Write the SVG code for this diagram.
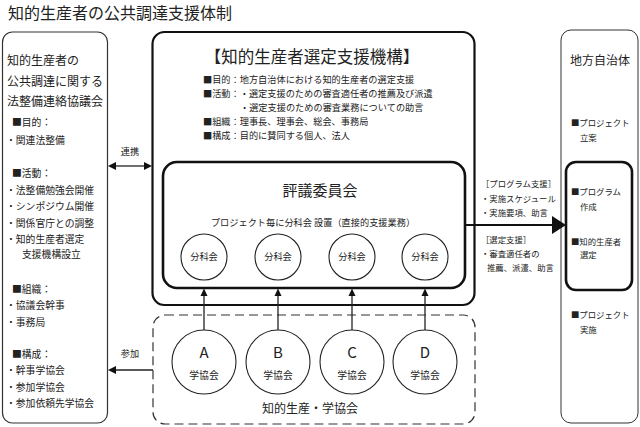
<svg xmlns="http://www.w3.org/2000/svg" width="640" height="427" viewBox="0 0 640 427">
<style>
text{font-family:"Noto Sans CJK JP","Noto Sans",sans-serif;fill:#222}
.s{font-size:9.2px}
.r{font-size:8.4px}
.l{font-size:9.8px}
.m{font-size:12px}
.c{text-anchor:middle}
.thin{fill:#fff;stroke:#333;stroke-width:1.2}
.thick{fill:#fff;stroke:#111;stroke-width:2.2}
.heavy{fill:none;stroke:#111;stroke-width:2.6}
.circ{fill:#fff;stroke:#222;stroke-width:1.1}
.ln{stroke:#222;stroke-width:1.3;fill:none}
.ah{fill:#111}
</style>
<rect width="640" height="427" fill="#fff"/>
<text x="8" y="19" style="font-size:16px">知的生産者の公共調達支援体制</text>

<g id="council">
<rect class="thin" x="2.5" y="32" width="105" height="391" rx="10"/>
<text class="m" x="7" y="64.5">知的生産者の</text>
<text class="m" x="7" y="85.5">公共調達に関する</text>
<text class="m" x="7" y="105.5">法整備連絡協議会</text>
<text class="l" x="12" y="125.6">■目的：</text>
<text class="l" x="6" y="143.6">・関連法整備</text>
<text class="l" x="12" y="176.6">■活動：</text>
<text class="l" x="6" y="193.6">・法整備勉強会開催</text>
<text class="l" x="6" y="210">・シンポジウム開催</text>
<text class="l" x="6" y="226.6">・関係官庁との調整</text>
<text class="l" x="6" y="242.6">・知的生産者選定</text>
<text class="l" x="22" y="257.6">支援機構設立</text>
<text class="l" x="12" y="292.6">■組織：</text>
<text class="l" x="6" y="308.6">・協議会幹事</text>
<text class="l" x="6" y="325.6">・事務局</text>
<text class="l" x="12" y="357.6">■構成：</text>
<text class="l" x="6" y="373.6">・幹事学協会</text>
<text class="l" x="6" y="390.6">・参加学協会</text>
<text class="l" x="6" y="406.6">・参加依頼先学協会</text>
</g>

<g id="org">
<rect class="thick" x="152.5" y="32" width="322" height="273" rx="12"/>
<text class="c" x="312" y="63" style="font-size:16.5px">【知的生産者選定支援機構】</text>
<text class="s" x="203" y="82.6">■目的：地方自治体における知的生産者の選定支援</text>
<text class="s" x="203" y="96.6">■活動：・選定支援のための審査適任者の推薦及び派遣</text>
<text class="s" x="240" y="110.6">・選定支援のための審査業務についての助言</text>
<text class="s" x="203" y="124.6">■組織：理事長、理事会、総会、事務局</text>
<text class="s" x="203" y="138.6">■構成：目的に賛同する個人、法人</text>
</g>

<g id="committee">
<rect class="heavy" x="163" y="162" width="302" height="126" rx="14"/>
<text class="c" x="320" y="195.7" style="font-size:15px">評議委員会</text>
<text class="s c" x="313" y="225.5">プロジェクト毎に分科会 設置（直接的支援業務）</text>
</g>

<g id="bunkakai1"><circle class="circ" cx="204" cy="257" r="23"/><text class="s c" x="204" y="260.4">分科会</text></g>
<g id="bunkakai2"><circle class="circ" cx="278" cy="257" r="23"/><text class="s c" x="278" y="260.4">分科会</text></g>
<g id="bunkakai3"><circle class="circ" cx="352" cy="257" r="23"/><text class="s c" x="352" y="260.4">分科会</text></g>
<g id="bunkakai4"><circle class="circ" cx="425" cy="257" r="23"/><text class="s c" x="425" y="260.4">分科会</text></g>

<g id="societies">
<rect x="153" y="315" width="322" height="109" rx="12" fill="none" stroke="#333" stroke-width="1.2" stroke-dasharray="9,5"/>
<text class="m c" x="310" y="412.5">知的生産・学協会</text>
</g>
<g id="societyA"><circle class="circ" cx="204" cy="362" r="32"/><text class="c" x="204" y="357.5" style="font-size:15px">A</text><text class="l c" x="204" y="378.6">学協会</text></g>
<g id="societyB"><circle class="circ" cx="278" cy="362" r="32"/><text class="c" x="278" y="357.5" style="font-size:15px">B</text><text class="l c" x="278" y="378.6">学協会</text></g>
<g id="societyC"><circle class="circ" cx="352" cy="362" r="32"/><text class="c" x="352" y="357.5" style="font-size:15px">C</text><text class="l c" x="352" y="378.6">学協会</text></g>
<g id="societyD"><circle class="circ" cx="425" cy="362" r="32"/><text class="c" x="425" y="357.5" style="font-size:15px">D</text><text class="l c" x="425" y="378.6">学協会</text></g>

<g id="local-gov">
<rect class="thin" x="561" y="30" width="77" height="393" rx="10" style="stroke-width:1"/>
<text class="m c" x="600" y="64.5">地方自治体</text>
<text class="r" x="571" y="126.4">■プロジェクト</text>
<text class="r" x="580" y="141.4">立案</text>
<rect class="heavy" x="566" y="162" width="66" height="128" rx="10"/>
<text class="r" x="571" y="195.4">■プログラム</text>
<text class="r" x="580" y="210.4">作成</text>
<text class="r" x="571" y="245.4">■知的生産者</text>
<text class="r" x="580" y="258.4">選定</text>
<text class="r" x="571" y="318.4">■プロジェクト</text>
<text class="r" x="580" y="333.4">実施</text>
</g>

<g id="connectors">
<line class="ln" x1="115" y1="166" x2="145" y2="166"/>
<polygon class="ah" points="108,166 116,162 116,170"/>
<polygon class="ah" points="152,166 144,162 144,170"/>
<text class="s c" x="130" y="155.4">連携</text>
<line class="ln" x1="153" y1="370" x2="115" y2="370"/>
<polygon class="ah" points="108,370 116,366 116,374"/>
<text class="s c" x="130" y="357.4">参加</text>
<line x1="465" y1="225" x2="554" y2="225" stroke="#111" stroke-width="2.2"/>
<polygon class="ah" points="566,225 552,216 552,234"/>
<text class="r" x="481" y="187.4">［プログラム支援］</text>
<text class="r" x="481" y="202.4">・実施スケジュール</text>
<text class="r" x="481" y="216.4">・実施要項、助言</text>
<text class="r" x="481" y="243.4">［選定支援］</text>
<text class="r" x="481" y="257.4">・審査適任者の</text>
<text class="r" x="487" y="271.4">推薦、派遣、助言</text>
<line class="ln" x1="204" y1="330" x2="204" y2="294"/>
<line class="ln" x1="278" y1="330" x2="278" y2="294"/>
<line class="ln" x1="352" y1="330" x2="352" y2="294"/>
<line class="ln" x1="425" y1="330" x2="425" y2="294"/>
<polygon class="ah" points="204,288.5 200.5,296 207.5,296"/>
<polygon class="ah" points="278,288.5 274.5,296 281.5,296"/>
<polygon class="ah" points="352,288.5 348.5,296 355.5,296"/>
<polygon class="ah" points="425,288.5 421.5,296 428.5,296"/>
</g>
</svg>
